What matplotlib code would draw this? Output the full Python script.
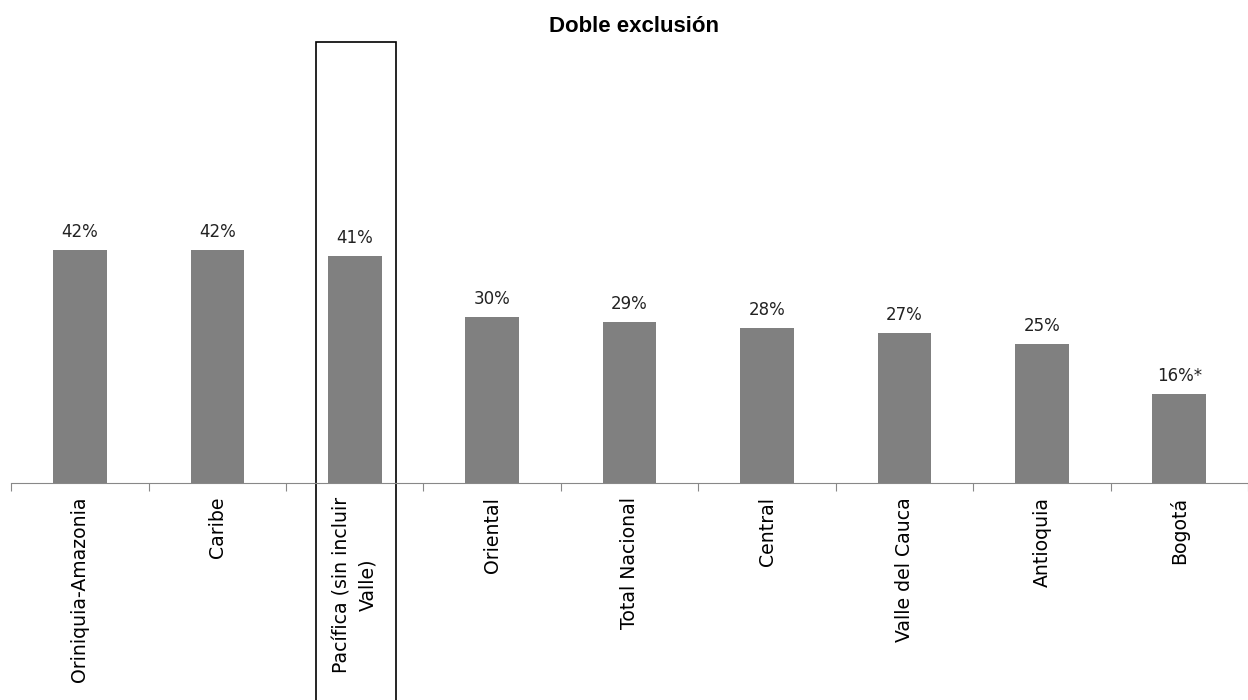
import numpy as np
import matplotlib.pyplot as plt
from matplotlib.patches import Rectangle
import matplotlib.transforms as mtransforms

# data
regiones = ['Oriniquia-Amazonia', 'Caribe', 'Pacífica (sin incluir\nValle)', 'Oriental',
            'Total Nacional', 'Central', 'Valle del Cauca', 'Antioquia', 'Bogotá']
valores = [42, 42, 41, 30, 29, 28, 27, 25, 16]
etiquetas = ['42%', '42%', '41%', '30%', '29%', '28%', '27%', '25%', '16%*']
destacada = 2  # region with the box around it

plt.rcParams['font.family'] = ['DejaVu Sans']

fig = plt.figure(figsize=(12.48, 7), dpi=100)
ax = fig.add_axes([0.009, 0.31, 0.991, 0.63])

x = np.arange(len(regiones))
ax.bar(x, valores, width=0.39, color='#808080')

# value labels above bars
for xi, v, lab in zip(x, valores, etiquetas):
    ax.text(xi, v + 1.6, lab, ha='center', va='bottom', fontsize=12, color='#222222')

ax.set_xlim(-0.5, len(regiones) - 0.5)
ax.set_ylim(0, 79.5)

# ticks at category boundaries, labels at centers
ax.set_xticks(np.arange(-0.5, len(regiones), 1.0))
ax.set_xticklabels([])
ax.set_xticks(x, minor=True)
ax.set_xticklabels(regiones, minor=True, rotation=90, fontsize=13.6,
                   va='top', ha='center', multialignment='center', linespacing=1.45)
ax.tick_params(axis='x', which='major', length=6, color='#888888', direction='out')
ax.tick_params(axis='x', which='minor', length=0, pad=10)
ax.set_yticks([])

for s in ['top', 'right', 'left']:
    ax.spines[s].set_visible(False)
ax.spines['bottom'].set_color('#888888')

# box around highlighted region
trans = mtransforms.blended_transform_factory(ax.transData, ax.transAxes)
ax.add_patch(Rectangle((destacada - 0.28, -0.5), 0.58, 1.5, transform=trans,
                       fill=False, edgecolor='black', linewidth=1.2, clip_on=False))

fig.text(0.508, 0.962, 'Doble exclusión', ha='center', va='center', fontsize=16,
         fontweight='bold', family='Liberation Sans')

fig.savefig('out.png', dpi=100)
